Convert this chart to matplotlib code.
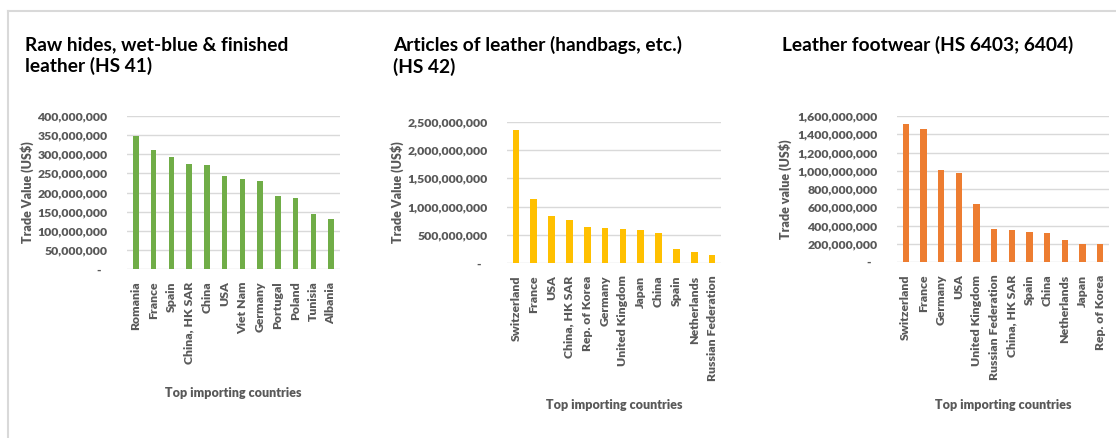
import matplotlib.pyplot as plt
from matplotlib.lines import Line2D
from matplotlib.ticker import FuncFormatter

# HS 41 - raw hides, wet-blue & finished leather
hides_countries = ['Romania', 'France', 'Spain', 'China, HK SAR', 'China', 'USA',
                   'Viet Nam', 'Germany', 'Portugal', 'Poland', 'Tunisia', 'Albania']
hides_values = [348e6, 311e6, 292e6, 275e6, 271e6, 242e6,
                235e6, 231e6, 191e6, 185e6, 144e6, 130e6]

# HS 42 - articles of leather
articles_countries = ['Switzerland', 'France', 'USA', 'China, HK SAR', 'Rep. of Korea', 'Germany',
                      'United Kingdom', 'Japan', 'China', 'Spain', 'Netherlands', 'Russian Federation']
articles_values = [2364e6, 1129e6, 839e6, 768e6, 644e6, 615e6,
                   603e6, 591e6, 532e6, 242e6, 189e6, 142e6]

# HS 6403; 6404 - leather footwear
footwear_countries = ['Switzerland', 'France', 'Germany', 'USA', 'United Kingdom', 'Russian Federation',
                      'China, HK SAR', 'Spain', 'China', 'Netherlands', 'Japan', 'Rep. of Korea']
footwear_values = [1516e6, 1462e6, 1007e6, 975e6, 640e6, 364e6,
                   349e6, 327e6, 320e6, 240e6, 200e6, 196e6]

plt.rcParams['font.family'] = ['Lato', 'DejaVu Sans']
TICK_GRAY = '#595959'
GRID = '#D9D9D9'
W, H = 1116, 438
WEIGHT = 'heavy'


def fmt(v, pos):
    if v == 0:
        return '-  '
    return f'{v:,.0f}'


def px_rect(l, t, r, b):
    return [l / W, 1 - b / H, (r - l) / W, (b - t) / H]


fig = plt.figure(figsize=(11.16, 4.38), dpi=100)

panels = [
    (hides_countries, hides_values, '#70AD47', 400e6, 50e6, (127, 116, 340, 269), 0.31,
     'Raw hides, wet-blue & finished\nleather (HS 41)', 25, 'Trade Value (US$)', 27, 393),
    (articles_countries, articles_values, '#FFC000', 2.5e9, 500e6, (507, 122, 721, 263), 0.37,
     'Articles of leather (handbags, etc.)\n(HS 42)', 393, 'Trade Value (US$)', 397, 405),
    (footwear_countries, footwear_values, '#ED7D31', 1.6e9, 200e6, (897, 116, 1109, 262), 0.36,
     'Leather footwear (HS 6403; 6404)', 782, 'Trade value (US$)', 785, 405),
]

for cats, vals, color, ymax, step, rect, bw, title, tx, ylab, ylx, xly in panels:
    ax = fig.add_axes(px_rect(*rect))
    x = range(len(cats))
    ax.bar(x, vals, width=bw, color=color, zorder=3)
    ax.set_xlim(-0.5, len(cats) - 0.5)
    ax.set_ylim(0, ymax)
    n = int(round(ymax / step))
    ax.set_yticks([i * step for i in range(n + 1)])
    ax.yaxis.set_major_formatter(FuncFormatter(fmt))
    ax.set_xticks(list(x))
    ax.set_xticklabels(cats, rotation=90)
    ax.grid(axis='y', color=GRID, linewidth=1, zorder=0)
    for s in ax.spines.values():
        s.set_visible(False)
    ax.tick_params(axis='both', length=0, colors=TICK_GRAY, labelsize=8.8)
    ax.tick_params(axis='y', pad=14)
    ax.tick_params(axis='x', pad=9)
    for lbl in ax.get_xticklabels() + ax.get_yticklabels():
        lbl.set_fontweight(WEIGHT)
    fig.text(tx / W, 1 - 36 / H, title, fontsize=13.8, fontweight='bold', color='black',
             va='top', ha='left', linespacing=1.25)
    fig.text(ylx / W, 1 - ((rect[1] + rect[3]) / 2) / H, ylab, rotation=90, fontsize=9,
             fontweight=WEIGHT, color=TICK_GRAY, ha='center', va='center')
    fig.text(((rect[0] + rect[2]) / 2) / W, 1 - xly / H, 'Top importing countries', fontsize=9,
             fontweight=WEIGHT, color=TICK_GRAY, ha='center', va='center')

# light frame of the original chart area
fig.add_artist(Line2D([8 / W, 8 / W], [0, 1 - 11 / H], color=GRID, linewidth=1.5))
fig.add_artist(Line2D([8 / W, 1], [1 - 11 / H, 1 - 11 / H], color=GRID, linewidth=1.5))

fig.savefig('out.png', dpi=100)
